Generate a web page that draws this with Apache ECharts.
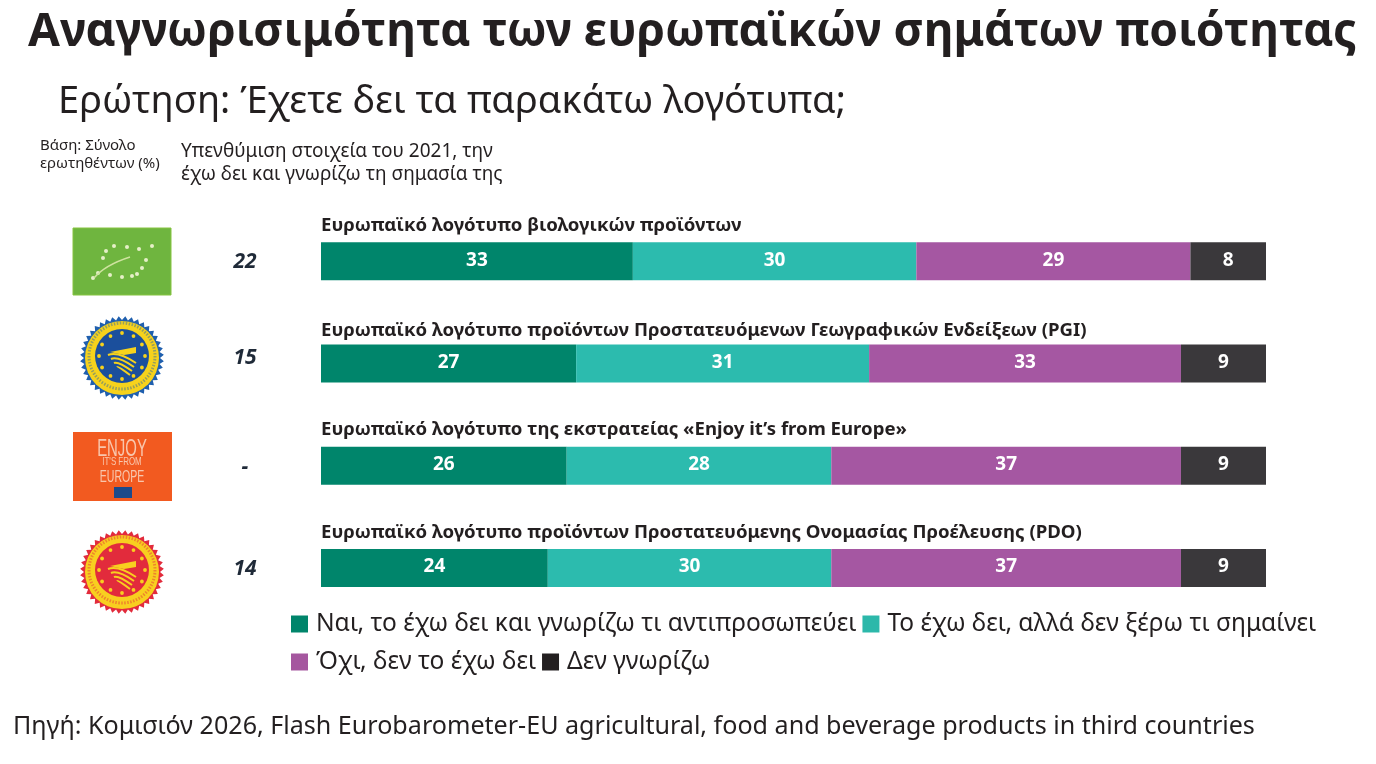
<!DOCTYPE html>
<html><head><meta charset="utf-8">
<style>html,body{margin:0;padding:0;background:#fff}#c{width:1376px;height:764px}</style>
<script src="https://cdn.jsdelivr.net/npm/echarts@6/dist/echarts.min.js"></script>
</head><body><div id="c"></div>
<script>
const rowTitles = [
 'Ευρωπαϊκό λογότυπο βιολογικών προϊόντων',
 'Ευρωπαϊκό λογότυπο προϊόντων Προστατευόμενων Γεωγραφικών Ενδείξεων (PGI)',
 'Ευρωπαϊκό λογότυπο της εκστρατείας «Enjoy it’s from Europe»',
 'Ευρωπαϊκό λογότυπο προϊόντων Προστατευόμενης Ονομασίας Προέλευσης (PDO)'];
const reminder2021 = ['22','15','-','14'];
const seriesNames = ['Ναι, το έχω δει και γνωρίζω τι αντιπροσωπεύει','Το έχω δει, αλλά δεν ξέρω τι σημαίνει','Όχι, δεν το έχω δει','Δεν γνωρίζω'];
const yesKnow = [33,27,26,24];
const yesDontKnow = [30,31,28,30];
const noSeen = [29,33,37,37];
const dontKnow = [8,9,9,9];
const barColors = ['#00856b','#2cbbae','#a557a2','#3a383b'];
const legendColors = ['#00856b','#2cb8aa','#a5579f','#231f20'];
const F = '"Noto Sans","Open Sans",sans-serif';

function seal(cx,cy,outer,teeth,ring,inner,fieldCol,starCol){
  const pts=[];const n=40;
  for(let i=0;i<n*2;i++){const r=i%2?outer:outer-4;const a=Math.PI*i/n;pts.push([cx+r*Math.cos(a),cy+r*Math.sin(a)]);}
  const ic=cy-2;
  const els=[
    {type:'polygon',shape:{points:pts},style:{fill:teeth},silent:true},
    {type:'circle',shape:{cx,cy,r:outer-5},style:{fill:ring},silent:true},
    {type:'circle',shape:{cx,cy:ic,r:outer-9},style:{fill:'none',stroke:teeth,lineWidth:3,lineDash:[1.5,1.5],opacity:.45},silent:true},
    {type:'circle',shape:{cx,cy:ic,r:outer-15},style:{fill:inner},silent:true}];
  for(let i=0;i<12;i++){const a=Math.PI*i/6;els.push({type:'circle',shape:{cx:cx+(outer-19)*Math.cos(a),cy:ic+(outer-19)*Math.sin(a),r:1.9},style:{fill:starCol},silent:true});}
  for(let k=0;k<4;k++){els.push({type:'bezierCurve',shape:{x1:cx-14+k*3,y1:ic-1+k*4,cpx1:cx-4,cpy1:ic-5+k*5,x2:cx+14-k*2,y2:ic+7+k*4},style:{stroke:fieldCol,fill:'none',lineWidth:2},silent:true});}
  els.push({type:'polygon',shape:{points:[[cx-12,ic-4],[cx+14,ic-9],[cx+14,ic-3],[cx+2,ic-1]]},style:{fill:fieldCol},silent:true});
  return els;
}
function organic(){
  const els=[{type:'rect',shape:{x:73,y:228,width:98,height:67},style:{fill:'#6fb53f',stroke:'#86c440',lineWidth:1},silent:true}];
  const leaf=[[114,246],[127,247],[139,249],[152,246],[106,251],[103,258],[146,260],[142,268],[137,274],[132,276],[122,277],[110,275],[98,273],[93,278]];
  leaf.forEach(p=>els.push({type:'circle',shape:{cx:p[0],cy:p[1],r:2},style:{fill:'#e6efc8'},silent:true}));
  els.push({type:'bezierCurve',shape:{x1:94,y1:278,cpx1:105,cpy1:265,x2:130,y2:257},style:{stroke:'#cfe3a0',fill:'none',lineWidth:1.4},silent:true});
  return els;
}
function enjoy(){
  const T=(t,y,fs,sx)=>({type:'text',x:122,y,scaleX:sx,silent:true,style:{text:t,fontFamily:'"Liberation Sans Narrow","Liberation Sans",sans-serif',fontSize:fs,fill:'#f9d9c6',opacity:.85,align:'center',verticalAlign:'middle'}});
  return [{type:'rect',shape:{x:73,y:432,width:99,height:69},style:{fill:'#f25a20'},silent:true},
    T('ENJOY',449,24,.62),T("IT'S FROM",462,11,.72),T('EUROPE',477,17,.62),
    {type:'rect',shape:{x:114,y:487,width:18,height:11},style:{fill:'#1d4a8a'},silent:true}];
}
const titlePad = [26,23,26,26];
const reminderShift = [1,-5,1,1];
const chart = echarts.init(document.getElementById('c'));
const mk=(i,data)=>({name:seriesNames[i],type:'bar',stack:'t',barWidth:38,data,itemStyle:{color:barColors[i]},
  label:{show:true,position:'inside',color:'#fff',fontFamily:F,fontWeight:'bold',fontSize:19,offset:[0,-1]}});
chart.setOption({
  animation:false,backgroundColor:'#fff',
  title:[
   {text:'Αναγνωρισιμότητα των ευρωπαϊκών σημάτων ποιότητας',left:23,top:5,textStyle:{fontFamily:F,fontWeight:'bold',fontSize:46.2,color:'#231f20'}},
   {text:'Ερώτηση: Έχετε δει τα παρακάτω λογότυπα;',left:53,top:78,textStyle:{fontFamily:F,fontWeight:'normal',fontSize:38,color:'#231f20'}},
   {text:'Βάση: Σύνολο\nερωτηθέντων (%)',left:35,top:132,textStyle:{fontFamily:F,fontWeight:'normal',fontSize:15,lineHeight:18,color:'#231f20'}},
   {text:'Υπενθύμιση στοιχεία του 2021, την\nέχω δει και γνωρίζω τη σημασία της',left:176,top:135,textStyle:{fontFamily:F,fontWeight:'normal',fontSize:19,lineHeight:23,color:'#231f20'}},
   {text:'Πηγή: Κομισιόν 2026, Flash Eurobarometer-EU agricultural, food and beverage products in third countries',left:8,top:709,textStyle:{fontFamily:F,fontWeight:'normal',fontSize:25.1,color:'#231f20'}}
  ],
  legend:{left:286,top:603,width:1060,itemWidth:17,itemHeight:17,itemGap:6,icon:'rect',
    textStyle:{fontFamily:F,fontSize:24.5,color:'#231f20',padding:[0,0,0,3],lineHeight:32},
    data:seriesNames.map((n,i)=>({name:n,itemStyle:{color:legendColors[i]}}))},
  grid:{left:321,top:210,width:945,height:409,containLabel:false},
  xAxis:{type:'value',min:0,max:100,show:false},
  yAxis:[
   {type:'category',inverse:true,data:reminder2021.map((v,i)=>({value:v,textStyle:{align:'center',verticalAlign:reminderShift[i]>0?'top':'bottom',lineHeight:2*Math.abs(reminderShift[i])}})),axisLine:{show:false},axisTick:{show:false},
    axisLabel:{align:'center',margin:76,fontFamily:F,fontStyle:'italic',fontWeight:'bold',fontSize:21,color:'#1f2a38'}},
   {type:'category',inverse:true,position:'left',data:rowTitles.map((v,i)=>({value:v,textStyle:{align:'left',verticalAlign:'bottom',padding:[0,0,titlePad[i],0]}})),axisLine:{show:false},axisTick:{show:false},
    axisLabel:{inside:true,margin:0,align:'left',verticalAlign:'bottom',fontFamily:F,fontWeight:'bold',fontSize:18.6,color:'#231f20',overflow:'none'}}
  ],
  series:[mk(0,yesKnow),mk(1,yesDontKnow),mk(2,noSeen),mk(3,dontKnow)],
  graphic:{elements:[...organic(),
    ...seal(122,358,42,'#1f5fae','#f6d21c','#1b4f9c','#f6d21c','#f6d21c'),
    ...enjoy(),
    ...seal(122,572,42,'#e22b3c','#f8cf1f','#e22b3c','#f8cf1f','#f8cf1f')]}
});
</script></body></html>
